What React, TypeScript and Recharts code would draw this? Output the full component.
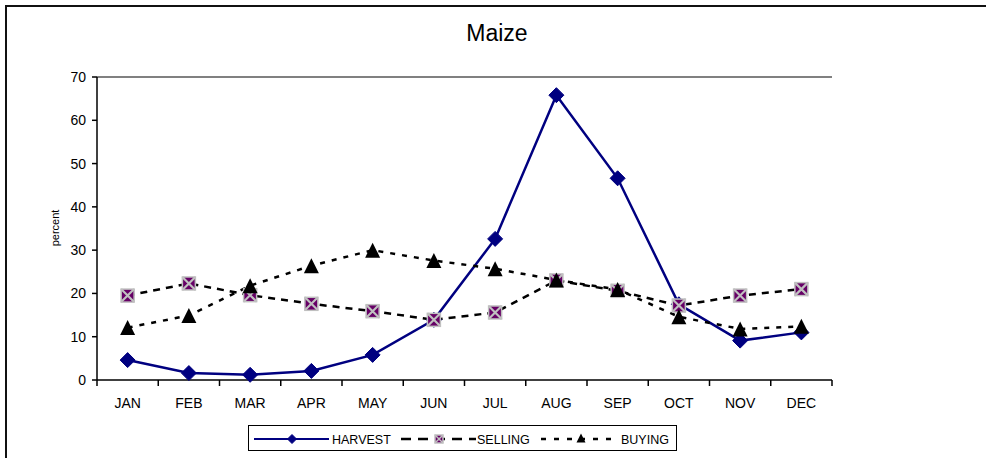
import { LineChart, Line, XAxis, YAxis, ReferenceLine } from 'recharts'

const months = ['JAN', 'FEB', 'MAR', 'APR', 'MAY', 'JUN', 'JUL', 'AUG', 'SEP', 'OCT', 'NOV', 'DEC']
const harvest = [4.6, 1.6, 1.2, 2.1, 5.8, 13.9, 32.6, 65.8, 46.6, 17.5, 9.1, 11.0]
const selling = [19.5, 22.3, 19.6, 17.6, 15.9, 13.9, 15.6, 23.0, 20.6, 17.2, 19.5, 21.0]
const buying = [12.1, 14.9, 21.8, 26.4, 30.0, 27.6, 25.7, 23.1, 20.9, 14.6, 11.8, 12.4]
const yTicks = [0, 10, 20, 30, 40, 50, 60, 70]

const data = months.map((m, i) => ({ month: m, harvest: harvest[i], selling: selling[i], buying: buying[i] }))

const W = 986
const H = 458
const margin = { top: 77, right: 154, bottom: 48, left: 37 }
const Y_AXIS_W = 60
const X_AXIS_H = 30
const plotLeft = margin.left + Y_AXIS_W
const plotRight = W - margin.right
const plotBottom = H - margin.bottom - X_AXIS_H
const halfBand = (plotRight - plotLeft) / months.length / 2

const FONT = '"Liberation Sans", Arial, sans-serif'
const NAVY = '#000080'
const PURPLE = '#660066'
const LIGHT = '#c0c0c0'

// recharts hands its own `r` to custom dots, so the marker size goes in `size`
function Diamond({ cx, cy, size = 7.5 }: any) {
  if (cx == null || cy == null) return null
  const s = size
  return <path d={`M${cx},${cy - s}L${cx + s},${cy}L${cx},${cy + s}L${cx - s},${cy}Z`} fill={NAVY} stroke={NAVY} strokeWidth={1} />
}

function XSquare({ cx, cy, size = 6.5 }: any) {
  if (cx == null || cy == null) return null
  const s = size
  return (
    <g>
      <rect x={cx - s} y={cy - s} width={s * 2} height={s * 2} fill={PURPLE} stroke={LIGHT} strokeWidth={1.5} />
      <path d={`M${cx - s},${cy - s}L${cx + s},${cy + s}M${cx + s},${cy - s}L${cx - s},${cy + s}`} stroke={LIGHT} strokeWidth={size > 5 ? 2.2 : 1.5} />
    </g>
  )
}

function Triangle({ cx, cy, size = 7.5 }: any) {
  if (cx == null || cy == null) return null
  const s = size
  return <path d={`M${cx},${cy - s}L${cx + s},${cy + s}L${cx - s},${cy + s}Z`} fill="#000" />
}

function MonthTick({ x, payload, index }: any) {
  return (
    <g>
      <line x1={x - halfBand} x2={x - halfBand} y1={plotBottom} y2={plotBottom + 6} stroke="#000" strokeWidth={1.5} />
      {index === months.length - 1 && (
        <line x1={x + halfBand} x2={x + halfBand} y1={plotBottom} y2={plotBottom + 6} stroke="#000" strokeWidth={1.5} />
      )}
      <text x={x} y={plotBottom + 28} textAnchor="middle" fontSize={14} fontFamily={FONT} fill="#000">
        {payload.value}
      </text>
    </g>
  )
}

function LegendBox() {
  const cy = 13
  return (
    <div style={{ position: 'absolute', left: 248, top: 425, width: 429, height: 26, border: '1px solid #000', boxSizing: 'border-box', background: '#fff' }}>
      <svg width={427} height={24} style={{ display: 'block' }}>
        <line x1={5} x2={80} y1={cy} y2={cy} stroke={NAVY} strokeWidth={2} />
        <Diamond cx={43} cy={cy} size={4.5} />
        <text x={83} y={cy + 4.5} fontSize={12.5} fontFamily={FONT}>HARVEST</text>
        <line x1={152} x2={227} y1={cy} y2={cy} stroke="#000" strokeWidth={2.5} strokeDasharray="10 7" />
        <XSquare cx={190} cy={cy} size={4} />
        <text x={228} y={cy + 4.5} fontSize={12.5} fontFamily={FONT}>SELLING</text>
        <line x1={292} x2={362} y1={cy} y2={cy} stroke="#000" strokeWidth={2.5} strokeDasharray="5 8" />
        <Triangle cx={332} cy={cy - 1} size={4.5} />
        <text x={372} y={cy + 4.5} fontSize={12.5} fontFamily={FONT}>BUYING</text>
      </svg>
    </div>
  )
}

export default function App() {
  return (
    <div style={{ position: 'absolute', left: 0, top: 0, width: W, height: H, background: '#fff', fontFamily: FONT, overflow: 'hidden' }}>
      <div style={{ position: 'absolute', left: 5, top: 5, width: W, height: H, borderLeft: '2px solid #111', borderTop: '2px solid #111' }} />
      <div style={{ position: 'absolute', left: 0, width: W, top: 18, textAlign: 'center', fontSize: 23, lineHeight: '30px', color: '#000', paddingLeft: 8, boxSizing: 'border-box' }}>
        Maize
      </div>
      <div style={{ position: 'absolute', left: 55, top: 228, transform: 'translate(-50%, -50%) rotate(-90deg)', fontSize: 11, color: '#000', whiteSpace: 'nowrap' }}>
        percent
      </div>
      <div style={{ position: 'absolute', left: 0, top: 0 }}>
        <LineChart width={W} height={H} data={data} margin={margin}>
          <XAxis
            dataKey="month"
            height={X_AXIS_H}
            padding={{ left: halfBand, right: halfBand }}
            axisLine={{ stroke: '#000', strokeWidth: 1.5 }}
            tickLine={false}
            tick={<MonthTick />}
            interval={0}
          />
          <YAxis
            width={Y_AXIS_W}
            domain={[0, 70]}
            ticks={yTicks}
            interval={0}
            axisLine={{ stroke: '#000', strokeWidth: 1.5 }}
            tickLine={{ stroke: '#000', strokeWidth: 1.5 }}
            tickSize={5}
            tickMargin={6}
            tick={{ fontSize: 14, fontFamily: FONT, fill: '#000' }}
          />
          <YAxis
            yAxisId="frame"
            orientation="right"
            width={0}
            domain={[0, 70]}
            tick={false}
            tickLine={false}
            axisLine={{ stroke: '#808080', strokeWidth: 2 }}
          />
          <ReferenceLine y={70} stroke="#808080" strokeWidth={2} />
          <Line
            dataKey="harvest"
            stroke={NAVY}
            strokeWidth={2.5}
            dot={<Diamond />}
            activeDot={false}
            isAnimationActive={false}
          />
          <Line
            dataKey="selling"
            stroke="#000"
            strokeWidth={2.5}
            strokeDasharray="7 6"
            dot={<XSquare />}
            activeDot={false}
            isAnimationActive={false}
          />
          <Line
            dataKey="buying"
            stroke="#000"
            strokeWidth={2.5}
            strokeDasharray="5 7"
            dot={<Triangle />}
            activeDot={false}
            isAnimationActive={false}
          />
        </LineChart>
      </div>
      <LegendBox />
    </div>
  )
}
